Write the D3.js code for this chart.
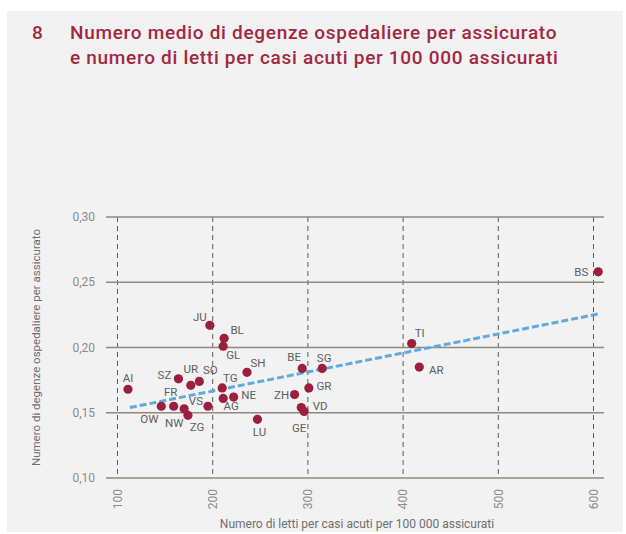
<!DOCTYPE html>
<html lang="it">
  <head>
    <meta charset="UTF-8" />
    <title>Degenze ospedaliere e letti per casi acuti</title>
    <script src="https://d3js.org/d3.v7.min.js"></script>
    <style>
      body { margin: 0; background: #fff; }
      svg { display: block; font-family: Roboto, "Liberation Sans", sans-serif; }
      .tick-label { fill: #8a8a8a; font-size: 12px; }
      .axis-title { fill: #6e6e6e; font-size: 12px; }
      .pt-label { fill: #5e5e5e; font-size: 11.5px; }
      .title { fill: #a3283f; font-size: 19px; font-weight: 500; letter-spacing: 0.7px; }
    </style>
  </head>
  <body>
    <svg id="chart" width="626" height="534"></svg>

    <script>
      // cantoni
      const cantons = ["AI", "SZ", "UR", "SO", "OW", "FR", "NW", "ZG", "VS", "TG", "AG", "NE",
        "SH", "GL", "BL", "JU", "LU", "BE", "SG", "GR", "ZH", "VD", "GE", "TI", "AR", "BS"];
      // letti per casi acuti per 100 000 assicurati
      const beds = [111, 164, 177, 186, 146, 159, 170, 174, 195, 210, 211, 222,
        236, 211, 212, 197, 247, 294, 315, 301, 286, 293, 296, 409, 417, 605];
      // degenze per assicurato
      const stays = [0.168, 0.176, 0.171, 0.174, 0.155, 0.155, 0.153, 0.148, 0.155, 0.169, 0.161, 0.162,
        0.181, 0.201, 0.207, 0.217, 0.145, 0.184, 0.184, 0.169, 0.164, 0.154, 0.151, 0.203, 0.185, 0.258];

      // retta di tendenza
      const trendX = [113, 607];
      const trendY = [0.154, 0.226];

      const xTicks = [100, 200, 300, 400, 500, 600];
      const yTicks = [0.10, 0.15, 0.20, 0.25, 0.30];

      // posizione delle etichette rispetto al punto
      const labelOffset = {
        AI: [0, -11], SZ: [-14, -4], UR: [0, -16], SO: [11, -11], OW: [-12, 13], FR: [-3, -14],
        NW: [-10, 14], ZG: [9, 12], VS: [-12, -5], TG: [8, -10], AG: [8, 8], NE: [15, -2],
        SH: [11, -9], GL: [10, 9], BL: [13, -8], JU: [-10, -8], LU: [2, 13], BE: [-8, -11],
        SG: [2, -10], GR: [15, -2], ZH: [-13, 0], VD: [19, -2], GE: [-5, 17], TI: [8, -11],
        AR: [17, 3], BS: [-17, 0]
      };

      const svg = d3.select("#chart");

      svg.append("rect")
        .attr("x", 7).attr("y", 11)
        .attr("width", 616).attr("height", 521)
        .attr("fill", "#f2f2f2");

      // titolo
      const title = svg.append("text").attr("class", "title");
      title.append("tspan").attr("x", 32).attr("y", 39).text("8");
      title.append("tspan").attr("x", 70).attr("y", 39)
        .text("Numero medio di degenze ospedaliere per assicurato");
      title.append("tspan").attr("x", 70).attr("y", 64)
        .text("e numero di letti per casi acuti per 100 000 assicurati");

      const x = d3.scaleLinear().domain([100, 600]).range([117.5, 593.5]);
      const y = d3.scaleLinear().domain([0.10, 0.30]).range([478, 217]);

      // griglia verticale tratteggiata
      svg.append("g")
        .selectAll("line")
        .data(xTicks)
        .join("line")
        .attr("x1", d => x(d)).attr("x2", d => x(d))
        .attr("y1", y(0.30)).attr("y2", y(0.10))
        .attr("stroke", "#5a5a5a")
        .attr("stroke-width", 1)
        .attr("stroke-dasharray", "5,4");

      // griglia orizzontale
      svg.append("g")
        .selectAll("line")
        .data(yTicks)
        .join("line")
        .attr("x1", 106).attr("x2", 604)
        .attr("y1", d => y(d)).attr("y2", d => y(d))
        .attr("stroke", "#8f897d")
        .attr("stroke-width", 1.3);

      const fmt = d3.format(".2f");
      svg.append("g")
        .selectAll("text")
        .data(yTicks)
        .join("text")
        .attr("class", "tick-label")
        .attr("x", 95)
        .attr("y", d => y(d))
        .attr("dy", "0.35em")
        .attr("text-anchor", "end")
        .text(d => fmt(d).replace(".", ","));

      svg.append("g")
        .selectAll("text")
        .data(xTicks)
        .join("text")
        .attr("class", "tick-label")
        .attr("transform", d => `translate(${x(d)},489) rotate(-90)`)
        .attr("dy", "0.35em")
        .attr("text-anchor", "end")
        .text(d => d);

      svg.append("text")
        .attr("class", "axis-title")
        .attr("x", 357).attr("y", 528)
        .attr("text-anchor", "middle")
        .text("Numero di letti per casi acuti per 100 000 assicurati");

      svg.append("text")
        .attr("class", "axis-title")
        .style("font-size", "11.5px")
        .attr("transform", `translate(36,${(y(0.10) + y(0.30)) / 2}) rotate(-90)`)
        .attr("dy", "0.35em")
        .attr("text-anchor", "middle")
        .text("Numero di degenze ospedaliere per assicurato");

      // tendenza
      svg.append("line")
        .attr("x1", x(trendX[0])).attr("y1", y(trendY[0]))
        .attr("x2", x(trendX[1])).attr("y2", y(trendY[1]))
        .attr("stroke", "#62a9dd")
        .attr("stroke-width", 3)
        .attr("stroke-dasharray", "7,3");

      const points = cantons.map((c, i) => ({ c, bx: beds[i], sy: stays[i] }));

      svg.append("g")
        .selectAll("circle")
        .data(points)
        .join("circle")
        .attr("cx", d => x(d.bx))
        .attr("cy", d => y(d.sy))
        .attr("r", 4.6)
        .attr("fill", "#9c1f3d");

      svg.append("g")
        .selectAll("text")
        .data(points)
        .join("text")
        .attr("class", "pt-label")
        .attr("x", d => x(d.bx) + labelOffset[d.c][0])
        .attr("y", d => y(d.sy) + labelOffset[d.c][1])
        .attr("dy", "0.35em")
        .attr("text-anchor", "middle")
        .text(d => d.c);
    </script>
  </body>
</html>
